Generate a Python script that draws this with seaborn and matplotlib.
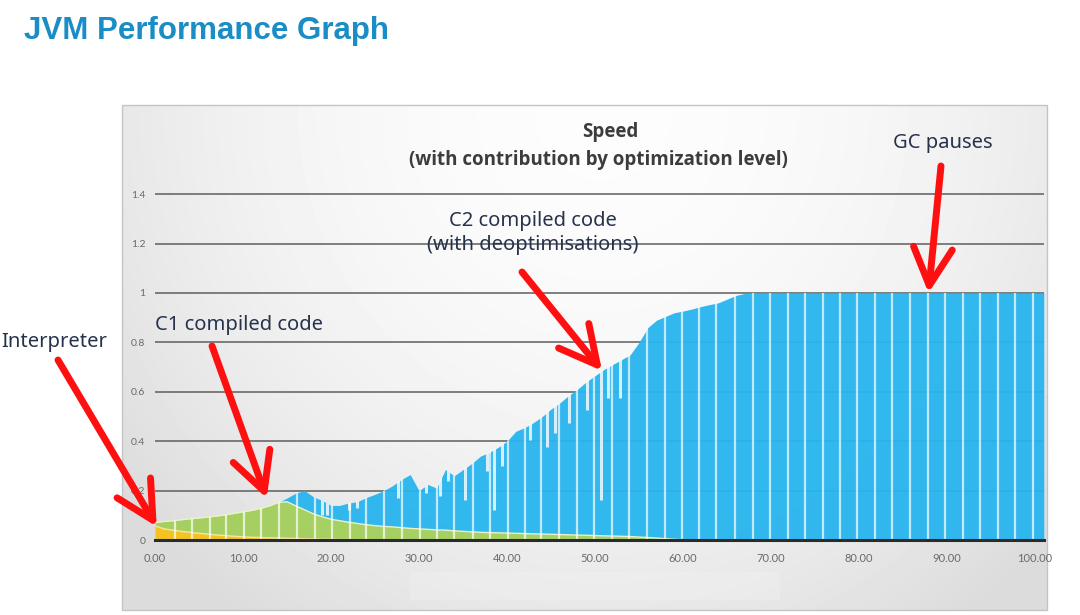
import numpy as np
import pandas as pd
import matplotlib
matplotlib.use("Agg")
import matplotlib.pyplot as plt
from matplotlib.patches import Rectangle
import seaborn as sns

# time axis and speed contribution of each execution tier
time = list(range(102))

interpreter = [
    0.058, 0.045, 0.040, 0.035, 0.031, 0.027, 0.024, 0.020, 0.018, 0.015,
    0.013, 0.011, 0.010, 0.009, 0.008, 0.007, 0.006, 0.005, 0.004, 0.003,
    0.003, 0.002, 0.002, 0.001, 0.001, 0.000, 0.000, 0.000, 0.000, 0.000,
    0.000, 0.000, 0.000, 0.000, 0.000, 0.000, 0.000, 0.000, 0.000, 0.000,
    0.000, 0.000, 0.000, 0.000, 0.000, 0.000, 0.000, 0.000, 0.000, 0.000,
    0.000, 0.000, 0.000, 0.000, 0.000, 0.000, 0.000, 0.000, 0.000, 0.000,
    0.000, 0.000, 0.000, 0.000, 0.000, 0.000, 0.000, 0.000, 0.000, 0.000,
    0.000, 0.000, 0.000, 0.000, 0.000, 0.000, 0.000, 0.000, 0.000, 0.000,
    0.000, 0.000, 0.000, 0.000, 0.000, 0.000, 0.000, 0.000, 0.000, 0.000,
    0.000, 0.000, 0.000, 0.000, 0.000, 0.000, 0.000, 0.000, 0.000, 0.000,
    0.000, 0.000,
]

c1_compiled = [
    0.012, 0.030, 0.038, 0.047, 0.055, 0.062, 0.069, 0.077, 0.084, 0.093,
    0.101, 0.109, 0.118, 0.129, 0.144, 0.148, 0.132, 0.117, 0.102, 0.091,
    0.081, 0.076, 0.070, 0.066, 0.061, 0.058, 0.055, 0.053, 0.050, 0.047,
    0.045, 0.043, 0.041, 0.040, 0.037, 0.035, 0.033, 0.031, 0.030, 0.029,
    0.028, 0.027, 0.026, 0.025, 0.024, 0.023, 0.022, 0.021, 0.020, 0.019,
    0.018, 0.017, 0.016, 0.015, 0.014, 0.012, 0.010, 0.008, 0.005, 0.003,
    0.001, 0.000, 0.000, 0.000, 0.000, 0.000, 0.000, 0.000, 0.000, 0.000,
    0.000, 0.000, 0.000, 0.000, 0.000, 0.000, 0.000, 0.000, 0.000, 0.000,
    0.000, 0.000, 0.000, 0.000, 0.000, 0.000, 0.000, 0.000, 0.000, 0.000,
    0.000, 0.000, 0.000, 0.000, 0.000, 0.000, 0.000, 0.000, 0.000, 0.000,
    0.000, 0.000,
]

c2_compiled = [
    0.000, 0.000, 0.000, 0.000, 0.000, 0.000, 0.000, 0.000, 0.000, 0.000,
    0.000, 0.000, 0.000, 0.000, 0.000, 0.015, 0.052, 0.078, 0.069, 0.066,
    0.056, 0.062, 0.078, 0.088, 0.110, 0.127, 0.145, 0.167, 0.195, 0.218,
    0.155, 0.182, 0.169, 0.245, 0.223, 0.250, 0.277, 0.309, 0.325, 0.346,
    0.372, 0.413, 0.429, 0.450, 0.476, 0.507, 0.533, 0.564, 0.590, 0.621,
    0.647, 0.673, 0.694, 0.715, 0.736, 0.788, 0.850, 0.882, 0.900, 0.917,
    0.926, 0.935, 0.945, 0.953, 0.960, 0.975, 0.990, 0.998, 1.000, 1.000,
    1.000, 1.000, 1.000, 1.000, 1.000, 1.000, 1.000, 1.000, 1.000, 1.000,
    1.000, 1.000, 1.000, 1.000, 1.000, 1.000, 1.000, 1.000, 1.000, 1.000,
    1.000, 1.000, 1.000, 1.000, 1.000, 1.000, 1.000, 1.000, 1.000, 1.000,
    1.000, 1.000,
]

# GC pauses: speed drops to zero for a moment
gc_pauses = [2.3, 4.2, 6.2, 8.1, 10.1, 12.1, 14.1, 16.1, 18.2, 20.1,
             22.2, 24.0, 26.0, 28.1, 30.1, 32.1, 34.0, 36.1, 38.1, 40.1,
             42.0, 43.9, 45.9, 47.9, 49.9, 51.9, 53.9, 55.9, 57.9, 59.9,
             61.8, 63.8, 65.9, 67.9, 69.9, 71.9, 73.9, 75.9, 77.8, 79.8,
             81.8, 83.8, 85.8, 87.8, 89.8, 91.8, 93.8, 95.8, 97.7, 99.8]

# deoptimisations: short dips of the C2 speed
deopt_time = [19.0, 19.6, 22.0, 22.9, 27.6, 30.8, 32.4, 33.3, 35.2, 37.7,
              38.5, 39.4, 42.6, 44.5, 45.5, 47.1, 49.1, 50.7, 51.5, 52.8]
deopt_speed = [0.10, 0.10, 0.12, 0.13, 0.17, 0.19, 0.18, 0.24, 0.16, 0.28,
               0.12, 0.30, 0.405, 0.378, 0.432, 0.472, 0.526, 0.162, 0.574, 0.574]

x_ticks = [0, 10, 20, 30, 40, 50, 60, 70, 80, 90, 100]
x_tick_labels = ["0.00", "10.00", "20.00", "30.00", "40.00", "50.00",
                 "60.00", "70.00", "80.00", "90.00", "100.00"]
y_ticks = [0, 0.2, 0.4, 0.6, 0.8, 1.0, 1.2, 1.4]
y_tick_labels = ["0", "0.2", "0.4", "0.6", "0.8", "1", "1.2", "1.4"]

YELLOW = "#f4c21b"
GREEN = "#a4cf5d"
BLUE = "#27b5ee"
ARROW_RED = "#ff1010"
NOTE_COLOR = "#26324c"

sns.set_theme(style="white")
plt.rcParams["font.family"] = ["Liberation Sans", "DejaVu Sans"]

W, H = 1080, 615
fig = plt.figure(figsize=(W / 100, H / 100), dpi=100)
fig.patch.set_facecolor("white")


def fig_xy(x, y):
    # screenshot pixel -> figure fraction
    return x / W, 1 - y / H


# grey gradient panel behind the excel-like chart
bg = fig.add_axes([0, 0, 1, 1], zorder=0)
bg.set_xlim(0, W)
bg.set_ylim(H, 0)
bg.axis("off")
gy, gx = np.mgrid[0:1:120j, 0:1:240j]
shade = 0.99 - 0.075 * ((gx - 0.52) / 0.5) ** 2 - 0.08 * gy ** 2
shade = np.clip(shade, 0.86, 0.99)
bg.imshow(shade, cmap="gray", vmin=0, vmax=1, extent=(122, 1047, 610, 105),
          aspect="auto", interpolation="bicubic")
bg.add_patch(Rectangle((410, 572), 370, 28, fc="#f2f2f2", ec="none", alpha=0.35))
bg.add_patch(Rectangle((122, 105), 925, 505, fill=False, ec="#c4c4c4", lw=1))

# main plot
ax = fig.add_axes([155 / W, 1 - 540 / H, 101 * 8.8 / W, 1.45 * 247 / H], zorder=2)
ax.patch.set_alpha(0)

df = pd.DataFrame({"time": time, "interp": interpreter, "c1": c1_compiled, "c2": c2_compiled})
df["interp_top"] = df["interp"]
df["c1_top"] = df["interp_top"] + df["c1"]
df["total"] = df["c1_top"] + df["c2"]

ax.fill_between(df["time"], 0, df["interp_top"], color=YELLOW, lw=0, alpha=0.96, zorder=1)
ax.fill_between(df["time"], df["interp_top"], df["c1_top"], color=GREEN, lw=0, alpha=0.96, zorder=1)
blue_area = ax.fill_between(df["time"], df["c1_top"], df["total"], color=BLUE, lw=0, alpha=0.95, zorder=1)
full_area = ax.fill_between(df["time"], 0, df["total"], color="none", lw=0)

sns.lineplot(data=df, x="time", y="interp_top", color="#f8e79a", lw=1, ax=ax, zorder=1.5)
sns.lineplot(data=df, x="time", y="c1_top", color="#e9f3c6", lw=1, ax=ax, zorder=1.5)

gc = ax.vlines(gc_pauses, 0, 1.45, color="white", lw=1.6, alpha=0.7, zorder=1.6)
gc.set_clip_path(full_area.get_paths()[0], ax.transData)
dips = ax.vlines(deopt_time, deopt_speed, 1.45, color="white", lw=2.2, alpha=0.8, zorder=1.7)
dips.set_clip_path(blue_area.get_paths()[0], ax.transData)

ax.set_xlim(0, 101)
ax.set_ylim(0, 1.45)
ax.set_xticks(x_ticks, labels=x_tick_labels, fontsize=8, color="#6a6a6a", family="Lato")
ax.set_yticks(y_ticks, labels=y_tick_labels, fontsize=7.5, color="#6a6a6a", family="Lato")
ax.tick_params(axis="x", length=0, pad=9)
ax.tick_params(axis="y", length=0, pad=7)
ax.grid(axis="y", color="#5e5e5e", lw=1.1)
ax.grid(axis="x", visible=False)
ax.set_axisbelow(True)
for side in ["left", "right", "top"]:
    ax.spines[side].set_visible(False)
ax.spines["bottom"].set_color("#2b2b2b")
ax.spines["bottom"].set_linewidth(2.2)
ax.set_xlabel("")
ax.set_ylabel("")

# titles
fig.text(*fig_xy(24, 39.5), "JVM Performance Graph", color="#1a8dc6", fontsize=22.5,
         fontweight="bold", ha="left", va="baseline")
fig.text(*fig_xy(610, 132), "Speed", color="#3c3c3c", fontsize=13.5,
         fontweight="bold", family="Open Sans", ha="center", va="center")
fig.text(*fig_xy(598, 160), "(with contribution by optimization level)", color="#3c3c3c",
         fontsize=13.5, fontweight="bold", family="Open Sans", ha="center", va="center")

# callouts
notes = [
    ("Interpreter", (54, 342), (58, 360), (0.2, 0.054)),
    ("C1 compiled code", (239, 325), (212, 346), (12.7, 0.169)),
    ("C2 compiled code\n(with deoptimisations)", (533, 233), (522, 272), (50.8, 0.685)),
    ("GC pauses", (943, 143), (941, 166), (87.9, 1.0)),
]
for label, text_px, tail_px, tip in notes:
    fig.text(*fig_xy(*text_px), label, color=NOTE_COLOR, fontsize=14.5, family="Noto Sans",
             ha="center", va="center", linespacing=1.3)
    ax.annotate("", xy=tip, xycoords="data", xytext=(tail_px[0], H - tail_px[1]),
                textcoords="figure pixels", annotation_clip=False,
                arrowprops=dict(arrowstyle="->,head_length=1.35,head_width=0.7",
                                color=ARROW_RED, lw=5, mutation_scale=20,
                                shrinkA=0, shrinkB=0))

fig.savefig("out.png", dpi=100)
